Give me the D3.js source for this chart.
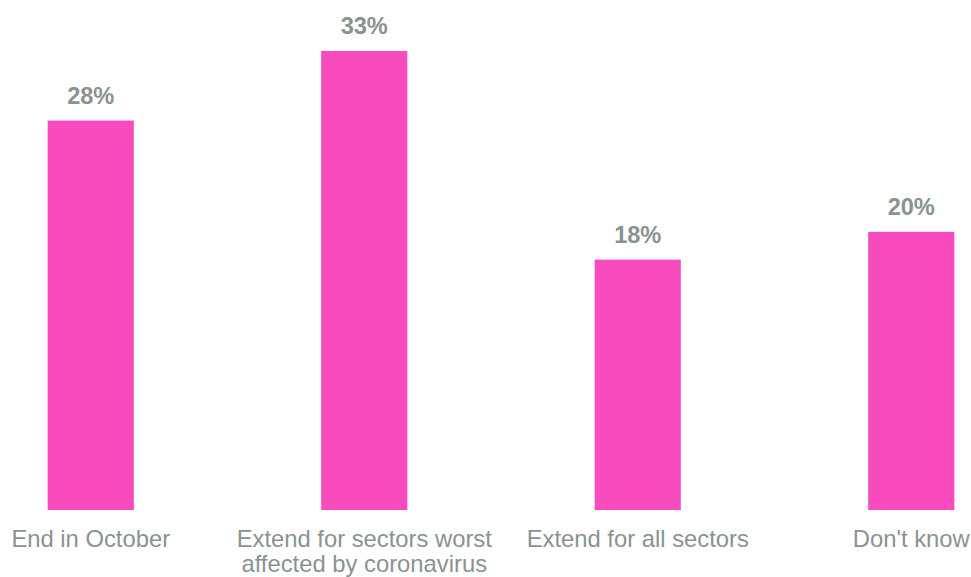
<!DOCTYPE html>
<html><head><meta charset="utf-8">
<script src="https://cdn.jsdelivr.net/npm/d3@7"></script>
<style>html,body{margin:0;padding:0;background:#fff;}svg{display:block;}</style>
</head><body>
<svg id="c" width="971" height="577"></svg>
<script>
const categories = [["End in October"], ["Extend for sectors worst", "affected by coronavirus"], ["Extend for all sectors"], ["Don't know"]];
const values = [28, 33, 18, 20];
const valueLabels = ["28%", "33%", "18%", "20%"];

const svg = d3.select("#c");
const x = d3.scaleBand().domain(d3.range(categories.length)).range([-46, 1048]).paddingInner(0.685).paddingOuter(0.3425);
const y = d3.scaleLinear().domain([0, 33]).range([510, 51]);
const font = "'Liberation Sans', Arial, sans-serif";
const textColor = "#89938f";

svg.selectAll("rect").data(values).join("rect")
  .attr("x", (d, i) => x(i)).attr("width", x.bandwidth())
  .attr("y", d => y(d)).attr("height", d => y(0) - y(d))
  .attr("fill", "#f84bbe");

svg.selectAll("text.val").data(values).join("text").attr("class", "val")
  .attr("x", (d, i) => x(i) + x.bandwidth() / 2).attr("y", d => y(d) - 17)
  .attr("text-anchor", "middle").attr("font-family", font).attr("font-weight", "bold")
  .attr("font-size", "23.6px").attr("fill", textColor)
  .text((d, i) => valueLabels[i]);

const cat = svg.selectAll("text.cat").data(categories).join("text").attr("class", "cat")
  .attr("text-anchor", "middle").attr("font-family", font).attr("font-size", "23.8px").attr("fill", textColor);
cat.selectAll("tspan").data((d, i) => d.map(t => ({t, i}))).join("tspan")
  .attr("x", d => x(d.i) + x.bandwidth() / 2)
  .attr("y", (d, j) => 547 + j * 25)
  .text(d => d.t);
</script>
</body></html>
